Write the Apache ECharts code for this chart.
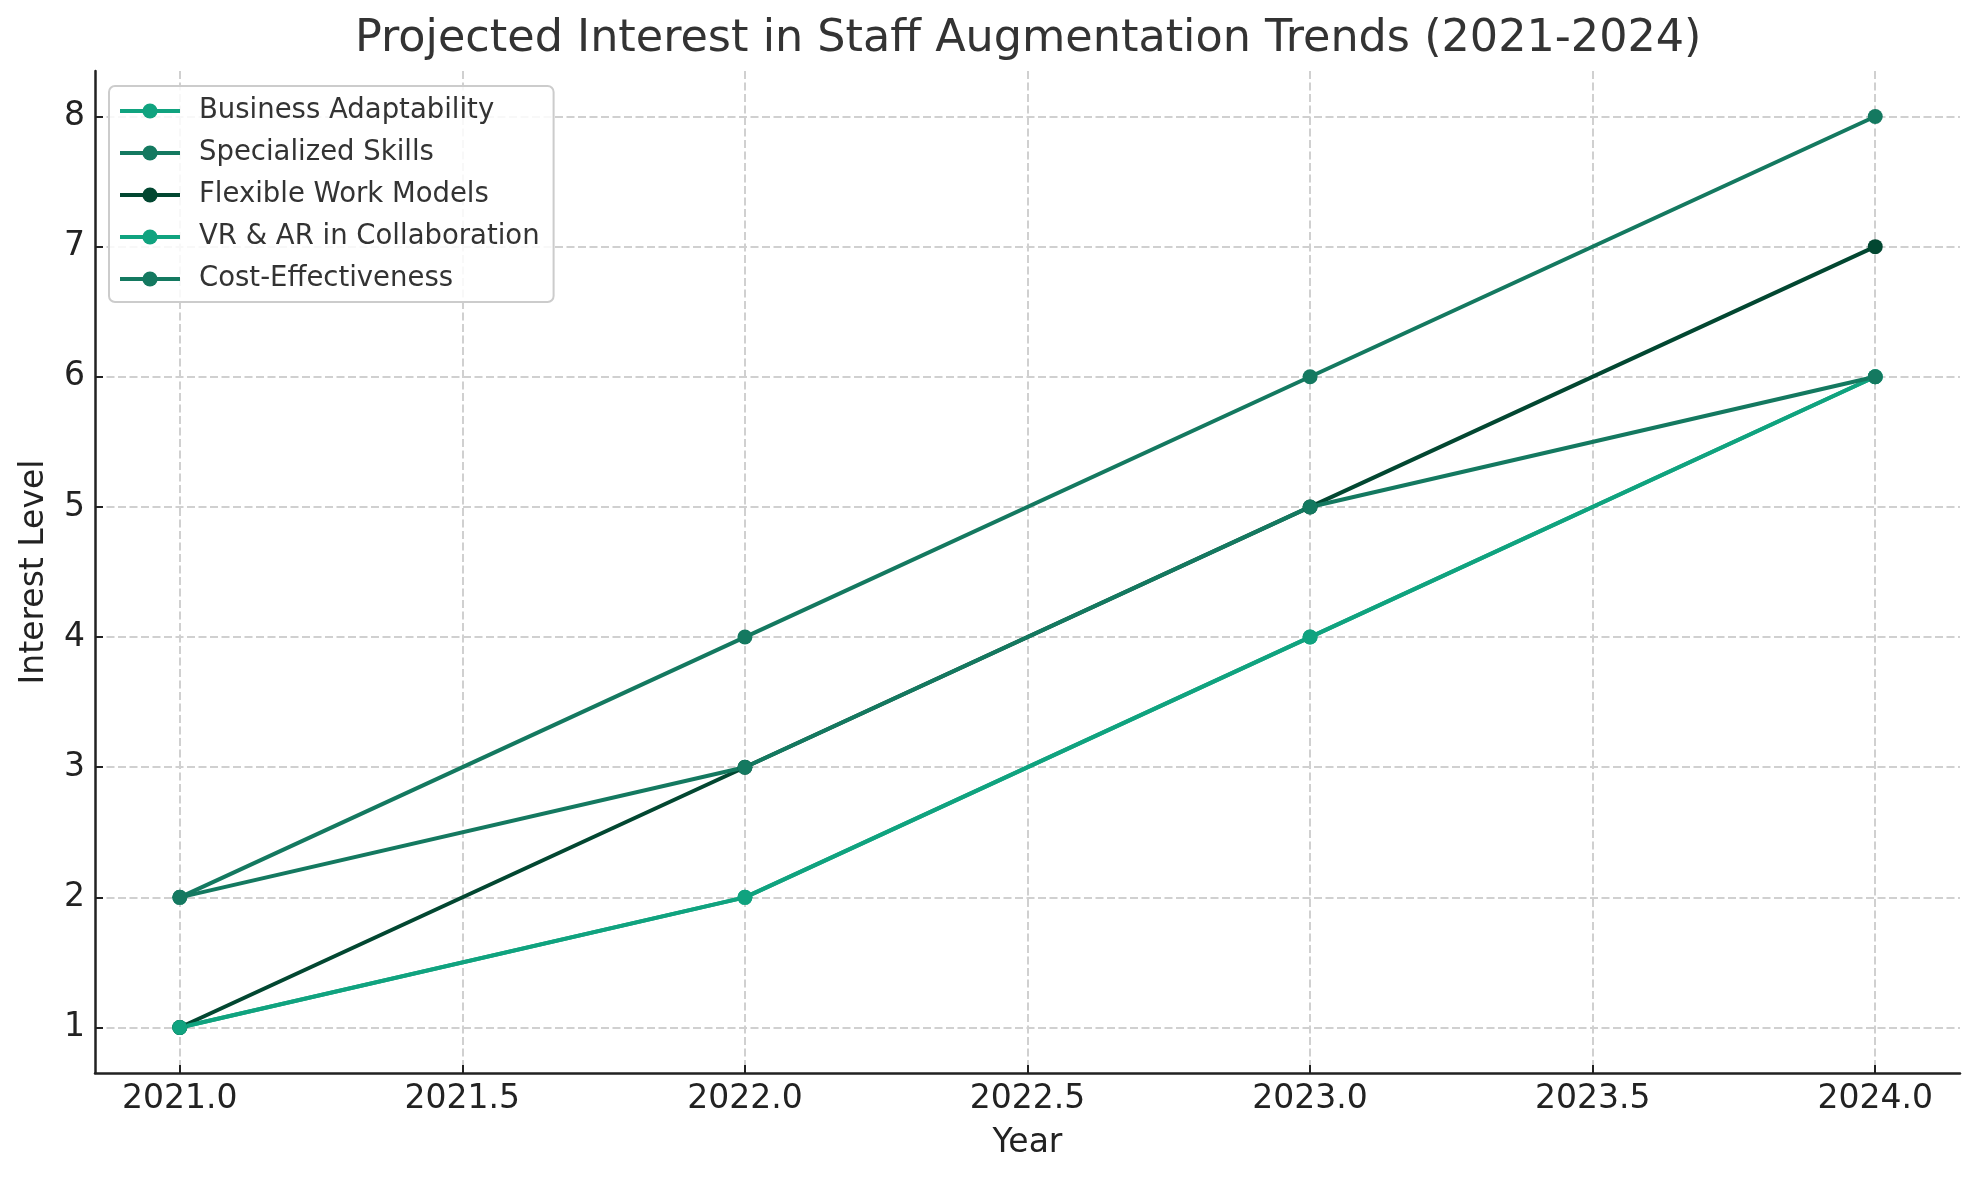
<!DOCTYPE html>
<html>
<head>
<meta charset="utf-8">
<script src="https://cdn.jsdelivr.net/npm/echarts@6/dist/echarts.min.js"></script>
<style>
html,body{margin:0;padding:0;background:#fff;}
#chart{width:1979px;height:1180px;}
</style>
</head>
<body>
<div id="chart"></div>
<script>
const years = [2021, 2022, 2023, 2024];
const businessAdaptability = [1, 2, 4, 6];
const specializedSkills = [2, 4, 6, 8];
const flexibleWorkModels = [1, 3, 5, 7];
const vrArCollaboration = [1, 2, 4, 6];
const costEffectiveness = [2, 3, 5, 6];
const xTicks = [2021.0, 2021.5, 2022.0, 2022.5, 2023.0, 2023.5, 2024.0];
const yTicks = [1, 2, 3, 4, 5, 6, 7, 8];

const seriesDefs = [
  {name: 'Business Adaptability', values: businessAdaptability, color: '#10a37f'},
  {name: 'Specialized Skills', values: specializedSkills, color: '#147960'},
  {name: 'Flexible Work Models', values: flexibleWorkModels, color: '#024731'},
  {name: 'VR & AR in Collaboration', values: vrArCollaboration, color: '#10a37f'},
  {name: 'Cost-Effectiveness', values: costEffectiveness, color: '#147960'}
];

const FONT = '"DejaVu Sans", sans-serif';
const gridLine = {show: true, lineStyle: {color: '#d0d0d0', width: 2, type: [8, 3.5]}};

const chart = echarts.init(document.getElementById('chart'), null, {renderer: 'canvas'});
chart.setOption({
  animation: false,
  backgroundColor: '#ffffff',
  title: {
    text: 'Projected Interest in Staff Augmentation Trends (2021-2024)',
    left: 355,
    top: 17,
    padding: 0,
    textStyle: {fontFamily: FONT, fontSize: 44.5, fontWeight: 'normal', color: '#333333'}
  },
  grid: {left: 95, right: 19, top: 71, bottom: 107, containLabel: false},
  legend: {
    orient: 'vertical',
    left: 109,
    top: 86,
    padding: [9, 14, 7, 9],
    itemWidth: 60,
    itemHeight: 19,
    itemGap: 10,
    backgroundColor: 'rgba(255,255,255,0.85)',
    borderColor: '#cccccc',
    borderWidth: 2,
    borderRadius: 6,
    lineStyle: {width: 4},
    textStyle: {fontFamily: FONT, fontSize: 27.5, color: '#333333', lineHeight: 32, padding: [0, 0, 0, 14]},
    data: seriesDefs.map(s => s.name)
  },
  xAxis: {
    type: 'value',
    min: 2020.85,
    max: 2024.15,
    name: 'Year',
    nameLocation: 'middle',
    nameGap: 54,
    nameTextStyle: {fontFamily: FONT, fontSize: 33, color: '#222222'},
    axisLine: {show: true, onZero: false, lineStyle: {color: '#222222', width: 2.5}},
    axisTick: {show: true, inside: true, length: 8, customValues: xTicks, lineStyle: {color: '#222222', width: 2}},
    axisLabel: {show: true, customValues: xTicks, margin: 10, fontFamily: FONT, fontSize: 33, color: '#222222',
      formatter: v => Number(v).toFixed(1)},
    splitLine: gridLine
  },
  yAxis: {
    type: 'value',
    min: 0.65,
    max: 8.35,
    name: 'Interest Level',
    nameLocation: 'middle',
    nameGap: 44,
    nameRotate: 90,
    nameTextStyle: {fontFamily: FONT, fontSize: 33, color: '#222222'},
    axisLine: {show: true, onZero: false, lineStyle: {color: '#222222', width: 2.5}},
    axisTick: {show: true, inside: true, length: 8, customValues: yTicks, lineStyle: {color: '#222222', width: 2}},
    axisLabel: {show: true, customValues: yTicks, margin: 10, fontFamily: FONT, fontSize: 33, color: '#222222',
      formatter: v => String(Math.round(v))},
    splitLine: gridLine
  },
  series: seriesDefs.map(s => ({
    name: s.name,
    type: 'line',
    data: years.map((y, i) => [y, s.values[i]]),
    color: s.color,
    symbol: 'circle',
    symbolSize: 15,
    showSymbol: true,
    lineStyle: {width: 4, color: s.color},
    itemStyle: {color: s.color},
    emphasis: {disabled: true}
  }))
});
</script>
</body>
</html>
